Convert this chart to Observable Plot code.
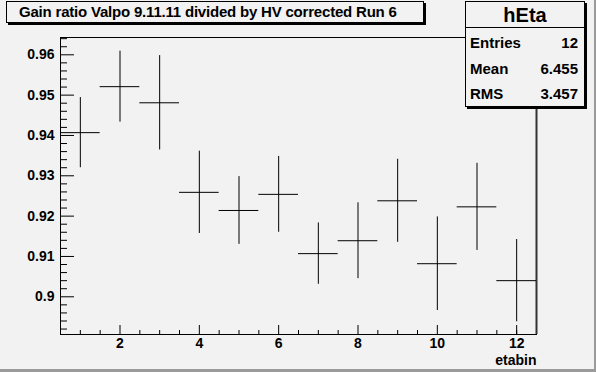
<!DOCTYPE html>
<html><head><meta charset="utf-8">
<script src="https://cdn.jsdelivr.net/npm/d3@7"></script>
<script src="https://cdn.jsdelivr.net/npm/@observablehq/plot@0.6"></script>
<style>
body{margin:0;background:#f2f2f2;}
#wrap{position:relative;width:596px;height:372px;overflow:hidden;background:#f2f2f2;font-family:"Liberation Sans",Arial,Helvetica,sans-serif;font-weight:bold;color:#000;}
#wrap svg{position:absolute;left:0;top:0;}
.box{position:absolute;background:#f2f2f2;border:1px solid #000;box-shadow:2px 2px 0 #000;box-sizing:border-box;}
#title{left:6px;top:1px;width:418px;height:22px;font-size:15px;line-height:20px;padding-left:12px;white-space:nowrap;letter-spacing:-0.2px;}
#stats{left:465px;top:1px;width:120px;height:106px;}
#stats .hd{position:absolute;left:0;right:0;top:0;height:25px;border-bottom:1px solid #000;text-align:center;font-size:20px;line-height:26px;}
#stats .row{position:absolute;left:4px;right:6px;height:20px;font-size:15px;line-height:20px;}
#stats .row .l{position:absolute;left:0;}
#stats .row .r{position:absolute;right:0;}
#bR{position:absolute;right:0;top:0;width:2px;height:372px;background:#9a9a9a;}
#bB{position:absolute;left:0;bottom:0;width:596px;height:3px;background:#9a9a9a;}
</style></head><body><div id="wrap"></div>
<script>
// data
const bins = [1, 2, 3, 4, 5, 6, 7, 8, 9, 10, 11, 12];
const values = [0.9407, 0.9521, 0.9481, 0.9259, 0.9214, 0.9254, 0.9107, 0.9139, 0.9238, 0.9082, 0.9223, 0.9040];
const errors = [0.0087, 0.0088, 0.0117, 0.0102, 0.0084, 0.0094, 0.0076, 0.0094, 0.0103, 0.0116, 0.0108, 0.0102];
const xMajorTicks = [2, 4, 6, 8, 10, 12];
const xMinorTicks = [1, 1.5, 2.5, 3, 3.5, 4.5, 5, 5.5, 6.5, 7, 7.5, 8.5, 9, 9.5, 10.5, 11, 11.5, 12];
const yMajorTicks = [0.90, 0.91, 0.92, 0.93, 0.94, 0.95, 0.96];
const yMinorTicks = [0.892, 0.894, 0.896, 0.898, 0.902, 0.904, 0.906, 0.908, 0.912, 0.914, 0.916, 0.918,
  0.922, 0.924, 0.926, 0.928, 0.932, 0.934, 0.936, 0.938, 0.942, 0.944, 0.946, 0.948,
  0.952, 0.954, 0.956, 0.958, 0.962, 0.964];
const titleText = "Gain ratio Valpo 9.11.11 divided by HV corrected Run 6";
const xLabel = "etabin";
const statsName = "hEta";
const statsLabels = ["Entries", "Mean", "RMS"];
const statsValues = ["12", "6.455", "3.457"];

const W = 596, H = 372, mL = 60, mR = 60, mT = 37, mB = 38;
const innerW = W - mL - mR, innerH = H - mT - mB;
const rows = bins.map((b, i) => ({bin: b, v: values[i], e: errors[i]}));

const chart = Plot.plot({
  width: W, height: H,
  marginLeft: mL, marginRight: mR, marginTop: mT, marginBottom: mB,
  style: {background: "transparent", fontFamily: "'Liberation Sans', Arial, sans-serif", fontWeight: "bold", color: "#000", overflow: "visible"},
  x: {domain: [0.5, 12.5]},
  y: {domain: [0.89065, 0.96429]},
  marks: [
    Plot.ruleX(xMinorTicks, {x: d => d, insetTop: innerH - 4, stroke: "#000"}),
    Plot.ruleX(xMajorTicks, {x: d => d, insetTop: innerH - 9, stroke: "#000"}),
    Plot.ruleY(yMinorTicks, {y: d => d, insetRight: innerW - 7, stroke: "#000"}),
    Plot.ruleY(yMajorTicks, {y: d => d, insetRight: innerW - 14, stroke: "#000"}),
    Plot.axisX(xMajorTicks, {tickSize: 0, tickPadding: 4, fontSize: 14, label: null}),
    Plot.axisY(yMajorTicks, {tickSize: 0, tickPadding: 6, fontSize: 14, label: null, tickFormat: d => String(+d.toFixed(2))}),
    Plot.frame({stroke: "#000"}),
    Plot.ruleX([12.5], {stroke: "#333", strokeWidth: 2}),
    Plot.ruleX(rows, {x: "bin", y1: d => d.v - d.e, y2: d => d.v + d.e, stroke: "#000"}),
    Plot.ruleY(rows, {y: "v", x1: d => d.bin - 0.5, x2: d => d.bin + 0.5, stroke: "#000"}),
    Plot.text([xLabel], {text: d => d, frameAnchor: "bottom-right", textAnchor: "end", dy: 21, lineAnchor: "top", fontSize: 14})
  ]
});

const wrap = document.getElementById("wrap");
wrap.appendChild(chart);

const t = document.createElement("div");
t.className = "box"; t.id = "title"; t.textContent = titleText;
wrap.appendChild(t);

const s = document.createElement("div");
s.className = "box"; s.id = "stats";
const hd = document.createElement("div"); hd.className = "hd"; hd.textContent = statsName; s.appendChild(hd);
statsLabels.forEach((lab, i) => {
  const r = document.createElement("div"); r.className = "row";
  r.style.top = (31 + i * 25.5) + "px";
  const l = document.createElement("span"); l.className = "l"; l.textContent = lab;
  const v = document.createElement("span"); v.className = "r"; v.textContent = statsValues[i];
  r.appendChild(l); r.appendChild(v); s.appendChild(r);
});
wrap.appendChild(s);

const bR = document.createElement("div"); bR.id = "bR"; wrap.appendChild(bR);
const bB = document.createElement("div"); bB.id = "bB"; wrap.appendChild(bB);
</script>
</body></html>
